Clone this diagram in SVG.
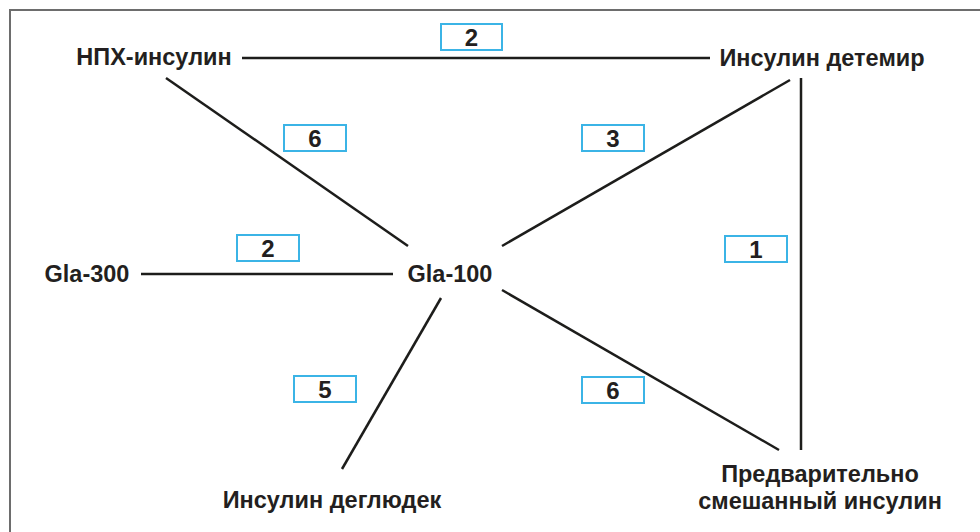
<svg xmlns="http://www.w3.org/2000/svg" width="980" height="532" viewBox="0 0 980 532">
<style>
.lbl{font-family:"Liberation Sans",Arial,sans-serif;font-weight:bold;font-size:23.5px;fill:#231f20;text-anchor:middle}
.num{font-family:"Liberation Sans",Arial,sans-serif;font-weight:bold;font-size:24px;fill:#231f20;text-anchor:middle}
.box{fill:#fff;stroke:#3bb4e6;stroke-width:2}
.edge{stroke:#1d1d1b;stroke-width:2.5;fill:none}
</style>
<rect width="980" height="532" fill="#fff"/>
<path d="M10 532 V10 H980" fill="none" stroke="#6d6d6d" stroke-width="2"/>
<g id="connectors">
<line class="edge" x1="242" y1="58" x2="710" y2="58"/>
<line class="edge" x1="166" y1="78" x2="408" y2="246"/>
<line class="edge" x1="502" y1="246" x2="790" y2="80"/>
<line class="edge" x1="801" y1="78" x2="801" y2="450"/>
<line class="edge" x1="502" y1="290" x2="779" y2="450"/>
<line class="edge" x1="441" y1="298" x2="342" y2="469"/>
<line class="edge" x1="141" y1="274" x2="393" y2="274"/>
<g id="w1"><rect class="box" x="441" y="24" width="61" height="26"/><text class="num" x="471.5" y="46">2</text></g>
<g id="w2"><rect class="box" x="284" y="125" width="62" height="26"/><text class="num" x="315" y="147">6</text></g>
<g id="w3"><rect class="box" x="582" y="125" width="62" height="26"/><text class="num" x="613" y="147">3</text></g>
<g id="w4"><rect class="box" x="237" y="235" width="62" height="26"/><text class="num" x="268" y="257">2</text></g>
<g id="w5"><rect class="box" x="725" y="236" width="62" height="26"/><text class="num" x="756" y="258">1</text></g>
<g id="w6"><rect class="box" x="294" y="376" width="62" height="26"/><text class="num" x="325" y="398">5</text></g>
<g id="w7"><rect class="box" x="582" y="377" width="62" height="26"/><text class="num" x="613" y="399">6</text></g>
</g>
<g id="npx"><text class="lbl" x="154" y="65">НПХ-инсулин</text></g>
<g id="detemir"><text class="lbl" x="822" y="66">Инсулин детемир</text></g>
<g id="gla300"><text class="lbl" x="87" y="282">Gla-300</text></g>
<g id="gla100"><text class="lbl" x="450" y="282">Gla-100</text></g>
<g id="degludec"><text class="lbl" x="332" y="508">Инсулин деглюдек</text></g>
<g id="premix"><text class="lbl" x="820" y="482">Предварительно</text><text class="lbl" x="820" y="509">смешанный инсулин</text></g>
</svg>
